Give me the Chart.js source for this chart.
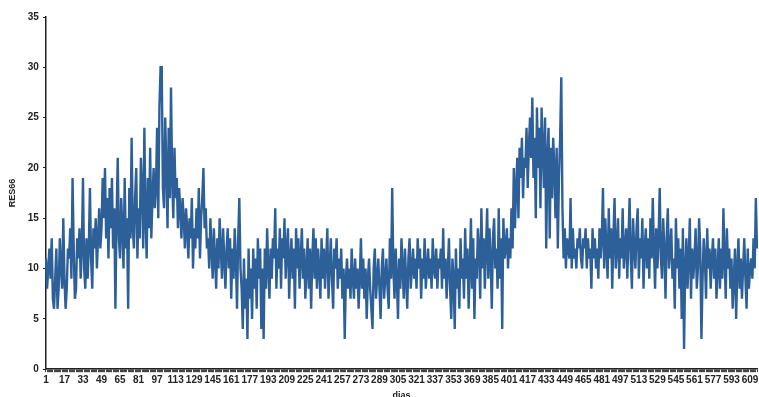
<!DOCTYPE html>
<html>
<head>
<meta charset="utf-8">
<script src="https://cdn.jsdelivr.net/npm/chart.js@4"></script>
<style>
  html, body { margin: 0; padding: 0; background: #fff; overflow: hidden; }
  #wrap { width: 759px; height: 401px; }
</style>
</head>
<body>
<div id="wrap"><canvas id="chart"></canvas></div>
<script>
// RES66 daily values (day 1 .. 615)
const res66 = [
  11,8,10,12,9,13,7,6,9,12,6,8,13,10,8,15,9,6,8,12,
  11,14,9,19,12,7,8,13,11,14,9,12,19,10,8,13,9,12,18,11,
  8,14,12,15,10,13,16,12,14,19,15,20,13,17,11,18,14,19,12,16,
  6,15,21,13,11,17,14,10,19,12,15,6,18,13,23,14,12,17,20,11,
  16,13,21,18,12,24,15,11,19,14,22,13,17,20,16,18,24,15,26,30,
  30,18,16,25,20,14,24,17,28,19,15,22,17,19,14,18,16,13,17,15,
  12,16,14,11,15,13,17,10,14,12,16,13,18,11,15,17,20,14,16,12,
  13,10,15,12,9,14,11,8,13,10,15,12,9,14,11,8,12,14,10,13,
  7,12,9,14,11,6,13,17,10,8,4,11,6,9,3,12,7,10,5,12,
  8,11,6,13,9,12,4,10,3,12,8,14,10,7,12,9,13,11,16,8,
  12,10,14,8,13,11,15,9,12,14,7,11,13,9,12,6,14,10,13,8,
  11,14,9,12,7,10,13,8,12,6,11,14,9,13,8,12,10,7,13,9,
  12,8,11,14,7,10,13,9,6,12,10,13,8,11,9,12,7,10,3,9,
  11,8,10,7,12,9,7,11,8,10,6,9,13,8,11,7,10,5,9,11,
  8,6,4,10,12,7,9,11,8,5,10,12,7,9,11,8,6,13,9,18,
  10,7,12,9,5,11,8,13,10,7,12,9,6,11,13,8,10,12,9,11,
  8,13,10,12,7,11,9,13,8,10,12,9,11,8,13,10,9,12,8,11,
  10,12,8,14,9,11,7,10,13,8,5,11,9,4,12,8,10,6,13,9,
  11,7,14,9,12,6,10,15,8,13,5,11,9,14,12,7,16,10,13,8,
  12,16,9,14,11,6,13,15,10,12,8,16,9,13,4,15,11,12,14,10,
  13,11,16,12,20,14,18,21,15,22,19,23,17,21,20,24,18,22,25,21,
  27,19,23,15,26,20,24,16,26,22,18,25,12,21,24,13,22,17,23,20,
  15,22,12,19,23,29,16,11,14,10,13,12,11,17,10,14,11,12,10,13,
  12,14,11,10,13,12,14,10,13,11,12,8,14,11,13,10,12,9,14,11,
  13,18,10,15,12,9,16,11,14,8,13,17,10,12,15,9,13,11,16,10,
  12,14,9,13,17,11,8,15,12,10,14,16,9,13,11,15,8,12,14,10,
  13,9,15,11,17,12,8,14,10,13,18,11,9,15,12,7,13,16,10,12,
  14,9,11,6,15,10,13,8,12,5,14,2,10,13,8,11,15,7,12,9,
  11,14,8,10,15,12,3,9,13,11,7,14,10,12,8,11,13,9,12,7,
  10,13,8,12,9,16,11,7,14,10,12,8,11,6,9,12,5,10,13,8,
  11,7,10,13,9,6,12,8,10,11,9,13,10,17,12
];

// day numbers for the category axis, a label is printed every 16 days
const days = res66.map((v, i) => i + 1);
const labelEvery = 16;

const yTicks = { min: 0, max: 35, step: 5 };

const tickFont = { family: "Liberation Sans", size: 10, weight: "bold" };

new Chart(document.getElementById("chart"), {
  type: "line",
  data: {
    labels: days,
    datasets: [{
      label: "RES66",
      data: res66,
      borderColor: "#2d5f99",
      borderWidth: 2.4,
      pointRadius: 0,
      tension: 0,
      fill: false
    }]
  },
  options: {
    responsive: true,
    maintainAspectRatio: false,
    animation: false,
    layout: { padding: { top: 17, right: 0, left: 7, bottom: 0 } },
    plugins: {
      legend: { display: false },
      tooltip: { enabled: false }
    },
    scales: {
      x: {
        offset: false,
        border: { color: "#222", width: 1.5 },
        grid: {
          display: true,
          drawOnChartArea: false,
          drawTicks: true,
          tickLength: 3,
          color: "#444"
        },
        ticks: {
          autoSkip: false,
          maxRotation: 0,
          minRotation: 0,
          padding: 2,
          color: "#222",
          font: tickFont,
          callback: function(val, idx) {
            return idx % labelEvery === 0 ? days[idx] : "";
          }
        },
        title: {
          display: true,
          text: "dias",
          color: "#222",
          font: { family: "Liberation Sans", size: 9, weight: "bold" },
          padding: { top: 2, bottom: 0 }
        }
      },
      y: {
        min: yTicks.min,
        max: yTicks.max,
        border: { color: "#222", width: 1.5 },
        grid: {
          display: true,
          drawOnChartArea: false,
          drawTicks: true,
          tickLength: 3,
          color: "#222"
        },
        ticks: {
          stepSize: yTicks.step,
          padding: 4,
          color: "#222",
          font: tickFont
        },
        title: {
          display: true,
          text: "RES66",
          color: "#222",
          font: { family: "Liberation Sans", size: 9, weight: "bold" },
          padding: { top: 0, bottom: 6 }
        }
      }
    }
  }
});
</script>
</body>
</html>
